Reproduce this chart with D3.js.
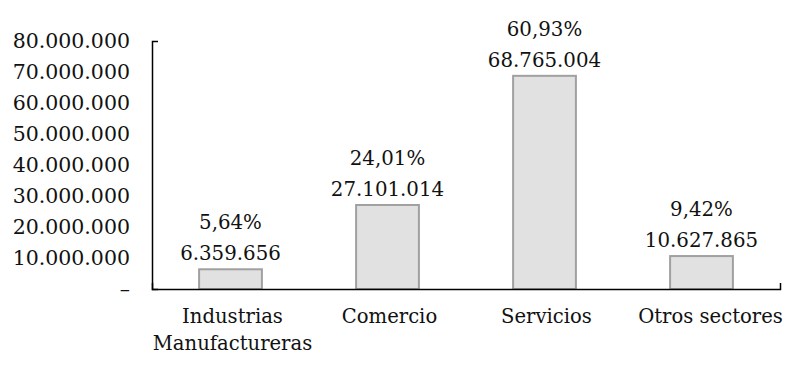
<!DOCTYPE html>
<html><head><meta charset="utf-8">
<script src="https://cdn.jsdelivr.net/npm/d3@7"></script>
<style>
html,body{margin:0;padding:0;background:#fff;}
svg{display:block;}
text{font-family:"DejaVu Serif",serif;fill:#111;}
</style></head>
<body>
<svg id="chart" width="798" height="367"></svg>
<script>
const categories = [["Industrias","Manufactureras"],["Comercio"],["Servicios"],["Otros sectores"]];
const values = [6359656, 27101014, 68765004, 10627865];
const percents = ["5,64%", "24,01%", "60,93%", "9,42%"];
const yTicks = [0, 10000000, 20000000, 30000000, 40000000, 50000000, 60000000, 70000000, 80000000];

const locale = d3.formatLocale({decimal:",", thousands:".", grouping:[3], currency:["",""]});
const fmt = locale.format(",d");

const svg = d3.select("#chart");
const fsTick = 20.5, fsCat = 19.6, fsVal = 19.8;
const names = categories.map(c => c.join(" "));

const x = d3.scaleBand().domain(names).range([152, 780]).paddingInner(0.6).paddingOuter(0.3);
const y = d3.scaleLinear().domain([0, 80000000]).range([289, 41]);

// y axis
const yAxis = d3.axisLeft(y).tickValues(yTicks).tickSize(0).tickSizeOuter(-6).tickPadding(22)
  .tickFormat(d => d === 0 ? "–" : fmt(d));
const gy = svg.append("g").attr("transform", "translate(152,0)").call(yAxis);
gy.select(".domain").attr("stroke", "#000").attr("stroke-width", 1.5);
gy.selectAll("text").attr("font-family", "DejaVu Serif").attr("font-size", fsTick).attr("fill", "#111");

// bars
svg.append("g").selectAll("rect").data(values).join("rect")
  .attr("x", (d, i) => x(names[i]))
  .attr("y", d => y(d))
  .attr("width", x.bandwidth())
  .attr("height", d => y(0) - y(d))
  .attr("fill", "#e1e1e1")
  .attr("stroke", "#a0a0a0")
  .attr("stroke-width", 2);

// x axis
const xAxis = d3.axisBottom(x).tickSize(0).tickSizeOuter(-6).tickFormat("");
const gx = svg.append("g").attr("transform", "translate(0,289)").call(xAxis);
gx.select(".domain").attr("stroke", "#000").attr("stroke-width", 1.5);

// category labels (last label nudged right as in the source layout)
const lab = svg.append("g").selectAll("text").data(categories).join("text")
  .attr("text-anchor", "middle")
  .attr("font-size", fsCat)
  .attr("x", (d, i) => x(names[i]) + x.bandwidth() / 2 + (i === categories.length - 1 ? 9 : 2))
  .attr("y", 323);
lab.selectAll("tspan").data(d => d).join("tspan")
  .attr("x", function() { return d3.select(this.parentNode).attr("x"); })
  .attr("dy", (d, i) => i === 0 ? 0 : 27)
  .text(d => d);

// value labels
svg.append("g").selectAll("text").data(values).join("text")
  .attr("text-anchor", "middle")
  .attr("font-size", fsVal)
  .attr("x", (d, i) => x(names[i]) + x.bandwidth() / 2)
  .attr("y", d => y(d) - 9)
  .text(d => fmt(d));

svg.append("g").selectAll("text").data(values).join("text")
  .attr("text-anchor", "middle")
  .attr("font-size", fsVal)
  .attr("x", (d, i) => x(names[i]) + x.bandwidth() / 2)
  .attr("y", d => y(d) - 40)
  .text((d, i) => percents[i]);
</script>
</body></html>
